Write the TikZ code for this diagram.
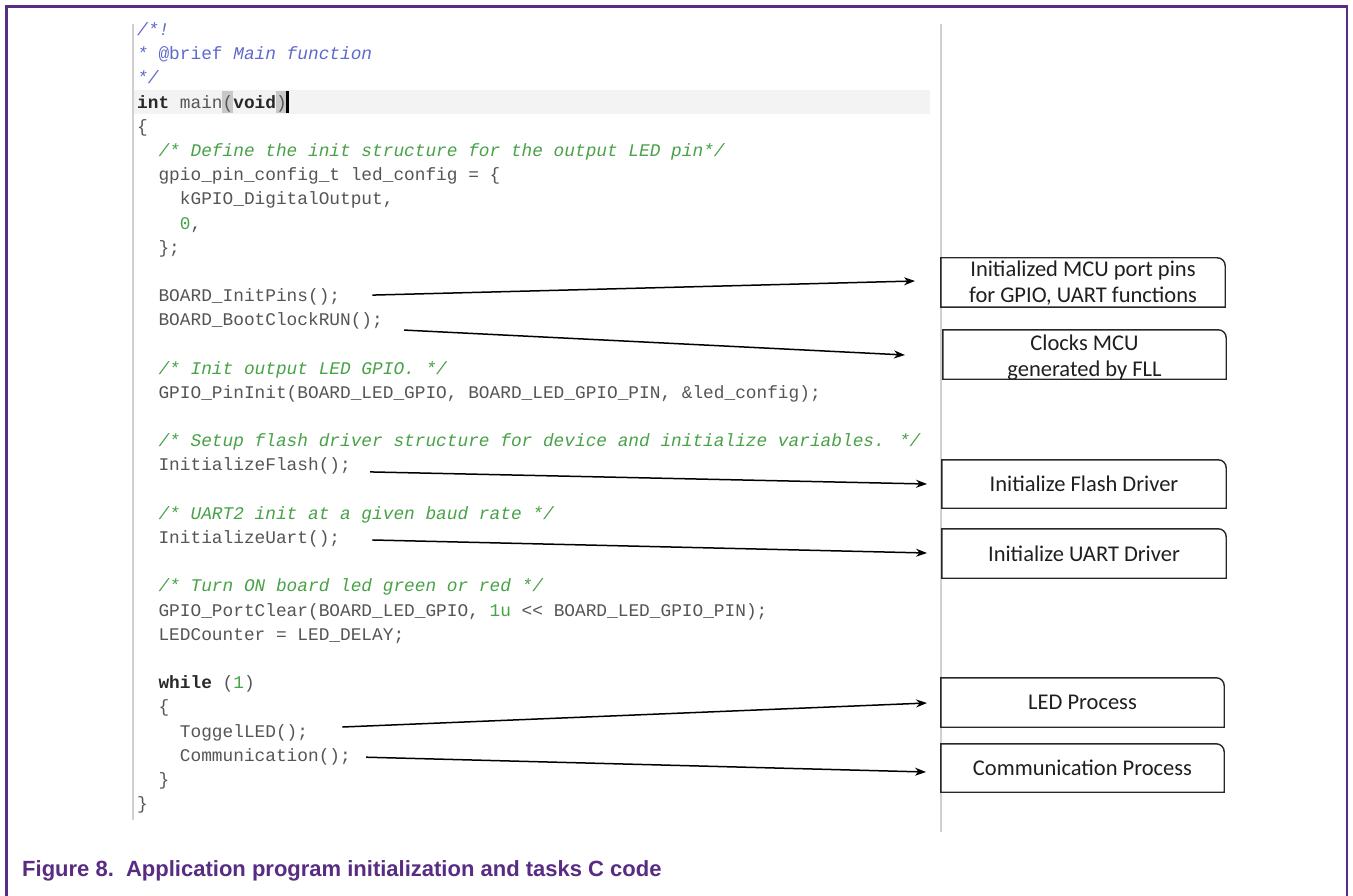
\documentclass[tikz,border=0pt]{standalone}
\usepackage{fontspec}
\setmainfont{Liberation Sans}
\newfontfamily\codefont{Liberation Mono}
\newfontfamily\boxfont{Carlito}
\usetikzlibrary{arrows.meta}

\definecolor{framepurple}{RGB}{88,44,131}
\definecolor{codegray}{RGB}{85,85,85}
\definecolor{kwdark}{RGB}{40,40,40}
\definecolor{cmtgreen}{RGB}{72,162,72}
\definecolor{docblue}{RGB}{95,105,205}
\definecolor{panelline}{RGB}{208,208,208}
\definecolor{curline}{RGB}{243,243,243}
\definecolor{bracketbg}{RGB}{200,200,200}
\definecolor{boxline}{RGB}{40,40,40}

% syntax colouring helpers
\newcommand{\kw}[1]{{\bfseries\color{kwdark}#1}}
\newcommand{\cmt}[1]{{\itshape\color{cmtgreen}#1}}
\newcommand{\cnum}[1]{{\color{cmtgreen}#1}}
\newcommand{\cdoc}[1]{{\itshape\color{docblue}#1}}
\newcommand{\cdocup}[1]{{\color{docblue}#1}}

% one source line: index, indent (characters), content
\newcommand{\codeline}[3]{\node[codetext] (l#1) at ({137+#2*10.68},{35.5+#1*24.19}) {#3};}

\begin{document}
\begin{tikzpicture}[x=1pt,y=-1pt,
  codetext/.style={anchor=base west, inner sep=0pt,
    font=\codefont\fontsize{17.8pt}{20pt}\selectfont, text=codegray},
  tabbox/.style={inner sep=0pt, minimum width=284pt, minimum height=49pt,
    font=\boxfont\fontsize{22.5pt}{26pt}\selectfont, text=black!88, align=center},
  boxedge/.style={draw=boxline, line width=1.4pt},
  conn/.style={draw=black, line width=1.5pt, -{Stealth[length=11pt,width=8pt]}},
  panel/.style={draw=panelline, line width=1.2pt},
  frame/.style={draw=framepurple, line width=2.6pt}]

\fill[white] (0,0) rectangle (1353,896);
\useasboundingbox (0,0) rectangle (1353,896);

% outer frame (open at the bottom)
\draw[frame] (6.5,900) -- (6.5,6.5) -- (1347,6.5) -- (1347,900);

% editor panel
\fill[curline] (133,90) rectangle (930,114);
\fill[bracketbg] (222.4,91) rectangle (233,113);
\fill[bracketbg] (275.8,91) rectangle (286.4,113);
\fill[black] (286.4,91) rectangle (288.6,113);
\draw[panel] (133,24) -- (133,820);
\draw[panel] (941,24) -- (941,832);

% source code
\codeline{0}{0}{\cdoc{/*!}}
\codeline{1}{0}{\cdoc{*} \cdocup{@brief} \cdoc{Main function}}
\codeline{2}{0}{\cdoc{*/}}
\codeline{3}{0}{\kw{int} main(\kw{void})}
\codeline{4}{0}{\{}
\codeline{5}{2}{\cmt{/* Define the init structure for the output LED pin*/}}
\codeline{6}{2}{gpio\_pin\_config\_t led\_config = \{}
\codeline{7}{4}{kGPIO\_DigitalOutput,}
\codeline{8}{4}{\cnum{0},}
\codeline{9}{2}{\};}
\codeline{11}{2}{BOARD\_InitPins();}
\codeline{12}{2}{BOARD\_BootClockRUN();}
\codeline{14}{2}{\cmt{/* Init output LED GPIO. */}}
\codeline{15}{2}{GPIO\_PinInit(BOARD\_LED\_GPIO, BOARD\_LED\_GPIO\_PIN, \&led\_config);}
\codeline{17}{2}{\cmt{/* Setup flash driver structure for device and initialize variables. */}}
\codeline{18}{2}{InitializeFlash();}
\codeline{20}{2}{\cmt{/* UART2 init at a given baud rate */}}
\codeline{21}{2}{InitializeUart();}
\codeline{23}{2}{\cmt{/* Turn ON board led green or red */}}
\codeline{24}{2}{GPIO\_PortClear(BOARD\_LED\_GPIO, \cnum{1u} {<}{<} BOARD\_LED\_GPIO\_PIN);}
\codeline{25}{2}{LEDCounter = LED\_DELAY;}
\codeline{27}{2}{\kw{while} (\cnum{1})}
\codeline{28}{2}{\{}
\codeline{29}{4}{ToggelLED();}
\codeline{30}{4}{Communication();}
\codeline{31}{2}{\}}
\codeline{32}{0}{\}}

% function boxes (two-line texts sit low in their boxes)
\node[tabbox, text height=43pt, text depth=2pt] (b1) at (1083,282.5)
  {Initialized MCU port pins\\for GPIO, UART functions};
\node[tabbox, minimum width=283pt, text height=44pt, text depth=1pt] (b2) at (1084.5,354.5)
  {Clocks MCU\\generated by FLL};
\node[tabbox, minimum height=48pt] (b3) at (1084,484) {Initialize Flash Driver};
\node[tabbox] (b4) at (1084,553.5) {Initialize UART Driver};
\node[tabbox, minimum width=283pt] (b5) at (1082.5,702.5) {LED Process};
\node[tabbox, minimum width=283pt, minimum height=48pt] (b6) at (1082.5,768) {Communication Process};

\foreach \b in {b1,b2,b3,b4,b5,b6}
  \draw[boxedge] (\b.south west) -- (\b.north west) -- ([xshift=-8pt]\b.north east)
    to[out=0,in=90] ([yshift=-8pt]\b.north east) -- (\b.south east) -- cycle;

% arrow tips next to the boxes
\coordinate (t1) at (915,281);
\coordinate (t2) at (905,355);
\coordinate (t3) at (927,484);
\coordinate (t4) at (927,553);
\coordinate (t5) at (927,703);
\coordinate (t6) at (926,772);

\draw[conn] ([xshift=32pt,yshift=6.5pt]l11.base east) -- (t1);
\draw[conn] ([xshift=21pt,yshift=-4.3pt]l12.base east) -- (t2);
\draw[conn] ([xshift=19pt,yshift=-1pt]l18.base east) -- (t3);
\draw[conn] ([xshift=32pt,yshift=3.5pt]l21.base east) -- (t4);
\draw[conn] ([xshift=34pt,yshift=10pt]l29.base east) -- (t5);
\draw[conn] ([xshift=15pt,yshift=4pt]l30.base east) -- (t6);

% caption
\node[anchor=base west, inner sep=0pt, text=framepurple,
  font=\bfseries\fontsize{22pt}{26pt}\selectfont] (cap) at (22,876.5)
  {Figure 8.\hspace{0.556em}Application program initialization and tasks C code};

\end{tikzpicture}
\end{document}
